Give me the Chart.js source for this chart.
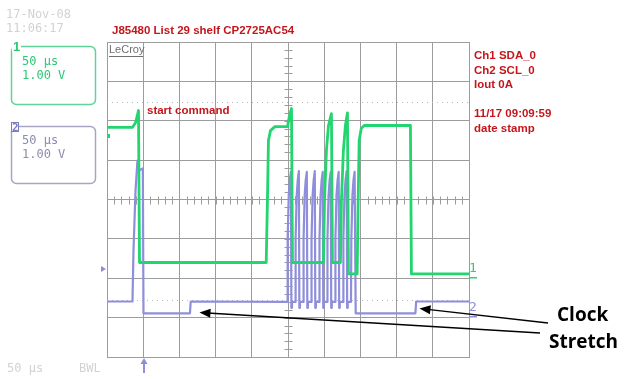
<!DOCTYPE html>
<html>
<head>
<meta charset="utf-8">
<script src="https://cdn.jsdelivr.net/npm/chart.js@4.4.1/dist/chart.umd.min.js"></script>
<style>
  html, body { margin: 0; padding: 0; background: #fff; }
  #wrap { width: 624px; height: 379px; position: relative; }
</style>
</head>
<body>
<div id="wrap"><canvas id="scope" width="624" height="379"></canvas></div>
<script>
// time in microseconds (50 us/div), levels in divisions
const sdaTime  = [0, 35, 39.4, 43.5, 44.9, 219.9, 221.6, 223, 225.8, 231.9, 249.3, 252, 254.8, 256.2,
                  299, 300.4, 303.1, 305.9, 310, 311.4, 322.4, 323.8, 326.5, 329.3, 332.1, 333.5,
                  345.5, 346.9, 348.3, 351.1, 355.2, 419.1, 420.5, 500];
const sdaLevel = [1.83, 1.83, 1.95, 2.26, -1.6, -1.6, -0.03, 1.5, 1.75, 1.85, 1.85, 2.13, 2.31, -1.6,
                  -1.6, -0.03, 1.24, 1.88, 2.18, -1.6, -1.6, -0.03, 1.24, 1.88, 2.2, -1.89,
                  -1.89, -0.03, 1.5, 1.8, 1.88, 1.88, -1.89, -1.89];

const sclTime  = [0, 35.2, 36.6, 39.4, 42.1, 44.9, 49.5, 50.4, 114.6, 115.6,
                  249, 249.5, 251, 252.5, 254, 254.7, 255.5,
                  260, 260.5, 262, 263.5, 265, 265.7, 266.5,
                  271, 271.5, 273, 274.5, 276, 276.7, 277.5,
                  282, 282.5, 284, 285.5, 287, 287.7, 288.5,
                  293, 293.5, 295, 296.5, 298, 298.7, 299.5,
                  304, 304.5, 306, 307.5, 309, 309.7, 310.5,
                  315, 315.5, 317, 318.5, 320, 320.7, 321.5,
                  326, 326.5, 328, 329.5, 331, 331.7, 332.5,
                  337, 337.5, 339, 340.5, 342, 343.5,
                  426, 427, 500];
const sclLevel = [-2.59, -2.59, -1.29, 0.23, 0.99, 0.74, 0.79, -2.89, -2.89, -2.59,
                  -2.6, -1.0, 0.1, 0.5, 0.7, -2.75, -2.6,
                  -2.6, -1.0, 0.1, 0.5, 0.72, -2.75, -2.6,
                  -2.6, -1.0, 0.1, 0.5, 0.7, -2.75, -2.6,
                  -2.6, -1.0, 0.1, 0.5, 0.72, -2.75, -2.6,
                  -2.6, -1.0, 0.1, 0.5, 0.7, -2.75, -2.6,
                  -2.6, -1.0, 0.1, 0.5, 0.7, -2.75, -2.6,
                  -2.6, -1.0, 0.1, 0.5, 0.7, -2.75, -2.6,
                  -2.6, -1.0, 0.1, 0.5, 0.72, -2.75, -2.6,
                  -2.6, -1.0, 0.1, 0.5, 0.7, -2.89,
                  -2.89, -2.59, -2.59];

const cursorLevels = [2.47, -2.56];
const headerText = 'J85480 List 29 shelf CP2725AC54';
const sideNotes  = ['Ch1 SDA_0', 'Ch2 SCL_0', 'Iout 0A', '', '11/17 09:09:59', 'date stamp'];

const GREEN  = '#22d56e';
const PURPLE = '#8e8edc';
const RED    = '#c4161c';
const GRID   = '#9c9c9c';

const toPoints = (t, v) => t.map((x, i) => ({ x, y: v[i] }));

function arrow(ctx, x0, y0, x1, y1) {
  const a = Math.atan2(y1 - y0, x1 - x0);
  ctx.beginPath();
  ctx.moveTo(x0, y0);
  ctx.lineTo(x1 - 8 * Math.cos(a), y1 - 8 * Math.sin(a));
  ctx.stroke();
  ctx.beginPath();
  ctx.moveTo(x1, y1);
  ctx.lineTo(x1 - 11 * Math.cos(a) + 4.5 * Math.sin(a), y1 - 11 * Math.sin(a) - 4.5 * Math.cos(a));
  ctx.lineTo(x1 - 11 * Math.cos(a) - 4.5 * Math.sin(a), y1 - 11 * Math.sin(a) + 4.5 * Math.cos(a));
  ctx.closePath();
  ctx.fill();
}

function roundBox(ctx, x, y, w, h, r) {
  ctx.beginPath();
  ctx.roundRect(x, y, w, h, r);
  ctx.stroke();
}

const scopeDecor = {
  id: 'scopeDecor',
  beforeDatasetsDraw(chart) {
    const { ctx, scales: { x, y }, chartArea: ca } = chart;
    ctx.save();
    // minor ticks on the centre crosshair
    ctx.strokeStyle = GRID;
    ctx.lineWidth = 1;
    const cx = Math.round(x.getPixelForValue(250)) + 0.5;
    const cy = Math.round(y.getPixelForValue(0)) + 0.5;
    ctx.beginPath();
    for (let v = -4; v <= 4.001; v += 0.2) {
      const py = Math.round(y.getPixelForValue(v)) + 0.5;
      ctx.moveTo(cx - 4, py); ctx.lineTo(cx + 4, py);
    }
    for (let t = 0; t <= 500.01; t += 10) {
      const px = Math.round(x.getPixelForValue(t)) + 0.5;
      ctx.moveTo(px, cy - 4); ctx.lineTo(px, cy + 4);
    }
    ctx.stroke();
    // dotted cursor levels
    ctx.strokeStyle = '#b8b8b8';
    ctx.setLineDash([1, 4]);
    cursorLevels.forEach(v => {
      const py = Math.round(y.getPixelForValue(v)) + 0.5;
      ctx.beginPath();
      ctx.moveTo(ca.left, py); ctx.lineTo(ca.right, py);
      ctx.stroke();
    });
    ctx.restore();
  },
  afterDraw(chart) {
    const { ctx, scales: { x, y }, chartArea: ca } = chart;
    ctx.save();
    ctx.textBaseline = 'middle';

    // header and notes
    ctx.fillStyle = RED;
    ctx.font = 'bold 11.5px "Liberation Sans", Arial, sans-serif';
    ctx.fillText(headerText, 112, 31);
    ctx.fillText('start command', 147, 111);
    sideNotes.forEach((s, i) => ctx.fillText(s, 474, 56 + i * 14.5));

    // brand tag
    ctx.fillStyle = '#707070';
    ctx.font = '11px "Liberation Sans", Arial, sans-serif';
    ctx.fillText('LeCroy', 109, 50);
    ctx.fillRect(109, 56, 34, 1);

    // left status panel
    ctx.font = '12px "DejaVu Sans Mono", monospace';
    ctx.fillStyle = '#d2d2d2';
    ctx.fillText('17-Nov-08', 6, 15);
    ctx.fillText('11:06:17', 6, 29);
    ctx.fillText('50 \u00b5s', 7, 369);
    ctx.fillText('BWL', 79, 369);

    ctx.lineWidth = 1.5;
    ctx.strokeStyle = '#5fd39a';
    roundBox(ctx, 11.5, 46.5, 84, 58, 5);
    ctx.fillStyle = '#2ec774';
    ctx.fillText('50 \u00b5s', 22, 62);
    ctx.fillText('1.00 V', 22, 76);
    ctx.fillStyle = '#fff';
    ctx.fillRect(12, 41, 9, 11);
    ctx.fillStyle = '#2ec774';
    ctx.font = 'bold 13px "Liberation Sans", Arial, sans-serif';
    ctx.fillText('1', 13, 47);

    ctx.strokeStyle = '#a6a6c4';
    roundBox(ctx, 11.5, 126.5, 84, 57, 5);
    ctx.fillStyle = '#fff';
    ctx.fillRect(11, 122, 8, 10);
    ctx.strokeStyle = '#7c7cc0';
    ctx.lineWidth = 1;
    ctx.strokeRect(11.5, 122.5, 7, 9);
    ctx.fillStyle = '#7c7cc0';
    ctx.font = 'bold 11px "DejaVu Sans Mono", monospace';
    ctx.fillText('2', 12, 128);
    ctx.font = '12px "DejaVu Sans Mono", monospace';
    ctx.fillStyle = '#8c8cac';
    ctx.fillText('50 \u00b5s', 22, 141);
    ctx.fillText('1.00 V', 22, 155);

    // channel markers
    ctx.fillStyle = PURPLE;
    ctx.beginPath();
    ctx.moveTo(101, 266); ctx.lineTo(106, 269); ctx.lineTo(101, 272); ctx.closePath();
    ctx.fill();
    ctx.fillStyle = GREEN;
    ctx.fillRect(ca.left, 134, 3, 4);
    ctx.font = '13px "DejaVu Sans Mono", monospace';
    ctx.fillText('1', 469, 269);
    ctx.fillRect(469, 277, 8, 1.5);
    ctx.fillStyle = PURPLE;
    ctx.fillText('2', 469, 308);
    ctx.fillRect(469, 316, 8, 1.5);

    // trigger arrow below the grid
    ctx.strokeStyle = PURPLE;
    ctx.lineWidth = 2;
    ctx.beginPath();
    ctx.moveTo(144, 373); ctx.lineTo(144, 362);
    ctx.stroke();
    ctx.beginPath();
    ctx.moveTo(144, 358); ctx.lineTo(140.5, 364); ctx.lineTo(147.5, 364); ctx.closePath();
    ctx.fill();

    // clock stretch callout
    ctx.strokeStyle = '#000';
    ctx.fillStyle = '#000';
    ctx.lineWidth = 1.3;
    arrow(ctx, 548, 323, x.getPixelForValue(431.6), y.getPixelForValue(-2.77));
    arrow(ctx, 540, 333, x.getPixelForValue(127.7), y.getPixelForValue(-2.87));
    ctx.font = 'bold 19px "Open Sans", "Noto Sans", sans-serif';
    ctx.fillText('Clock', 557, 316);
    ctx.fillText('Stretch', 549, 343);
    ctx.restore();
  }
};

new Chart(document.getElementById('scope'), {
  type: 'line',
  data: {
    datasets: [
      { label: 'SDA', data: toPoints(sdaTime, sdaLevel), borderColor: GREEN, borderWidth: 2.8 },
      { label: 'SCL', data: toPoints(sclTime, sclLevel), borderColor: PURPLE, borderWidth: 2.2 }
    ]
  },
  options: {
    responsive: false,
    animation: false,
    devicePixelRatio: 1,
    layout: { padding: { left: 107, right: 155, top: 42, bottom: 22 } },
    elements: { point: { radius: 0 }, line: { tension: 0, borderJoinStyle: 'round' } },
    plugins: { legend: { display: false }, tooltip: { enabled: false } },
    scales: {
      x: {
        type: 'linear', min: 0, max: 500,
        ticks: { display: false, stepSize: 50 },
        grid: { color: GRID, lineWidth: 1, drawTicks: false },
        border: { color: GRID }
      },
      y: {
        type: 'linear', min: -4, max: 4,
        ticks: { display: false, stepSize: 1 },
        grid: { color: GRID, lineWidth: 1, drawTicks: false },
        border: { color: GRID }
      }
    }
  },
  plugins: [scopeDecor]
});
</script>
</body>
</html>
